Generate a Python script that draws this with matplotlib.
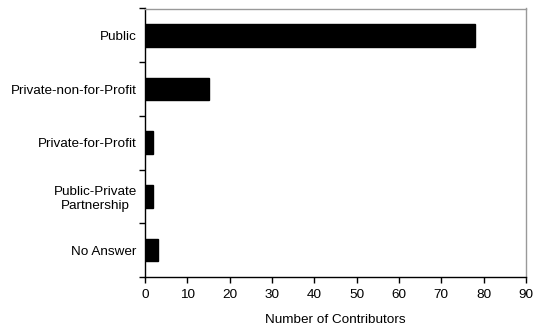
import numpy as np
import matplotlib
matplotlib.use('Agg')
import matplotlib.pyplot as plt

# categories from top to bottom as in the chart
categories = ['Public', 'Private-non-for-Profit', 'Private-for-Profit',
              'Public-Private\nPartnership', 'No Answer']
contributors = [78, 15, 2, 2, 3]
x_ticks = [0, 10, 20, 30, 40, 50, 60, 70, 80, 90]

plt.rcParams['font.family'] = ['Liberation Sans', 'DejaVu Sans']
plt.rcParams['font.size'] = 9.7

fig = plt.figure(figsize=(5.41, 3.26), dpi=100)
ax = fig.add_axes([145 / 541, 1 - 277 / 326, (526 - 145) / 541, (277 - 8.5) / 326])

pos = np.arange(len(categories))
ax.barh(pos, contributors, height=0.42, color='black', edgecolor='black')

ax.set_xlim(0, 90)
ax.set_ylim(len(categories) - 0.5, -0.5)
ax.set_xticks(x_ticks)
ax.set_yticks(pos)
ax.set_yticklabels(categories)
for lab in ax.get_yticklabels():
    lab.set_multialignment('center')
ax.set_yticks(np.arange(len(categories) + 1) - 0.5, minor=True)

ax.tick_params(axis='y', which='major', length=0, pad=6)
ax.tick_params(axis='y', which='minor', length=4, width=1, direction='out')
ax.tick_params(axis='x', length=4, width=1, direction='out', pad=5)

for s in ['left', 'bottom']:
    ax.spines[s].set_color('black')
    ax.spines[s].set_linewidth(1)
for s in ['top', 'right']:
    ax.spines[s].set_color('#999999')
    ax.spines[s].set_linewidth(1)

ax.set_xlabel('Number of Contributors', labelpad=9)

fig.savefig('out.png', dpi=100)
